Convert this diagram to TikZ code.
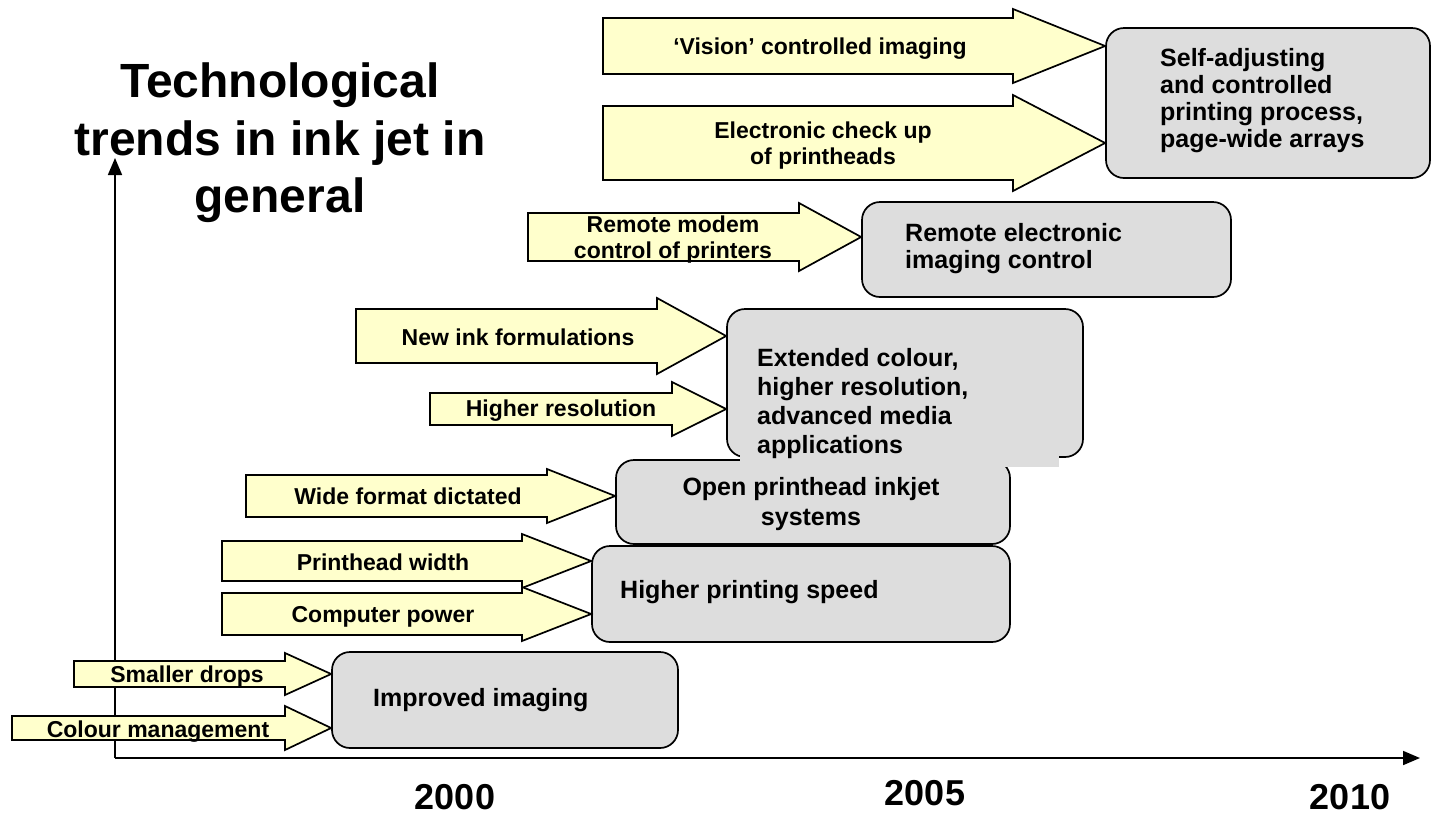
\documentclass[tikz,border=0pt]{standalone}
\usepackage{fontspec}
\setmainfont{Liberation Sans}
\usepackage{xcolor}
\usetikzlibrary{arrows.meta}
\definecolor{arrowyellow}{RGB}{255,255,204}
\definecolor{boxgray}{RGB}{221,221,221}

% block arrow: left x, base x, mid y, half shaft, half head, target box
\newcommand{\inarrow}[6]{%
\draw[yarrow] (#1,{#3-#4}) -- (#2,{#3-#4}) -- (#2,{#3-#5}) -- (#6.west |- 0,#3) -- (#2,{#3+#5}) -- (#2,{#3+#4}) -- (#1,{#3+#4}) -- cycle;}

\begin{document}
\begin{tikzpicture}[x=1pt,y=-1pt,
  yarrow/.style={draw, fill=arrowyellow, line width=1.7pt, line join=miter},
  grbox/.style={draw, fill=boxgray, line width=1.7pt, rounded corners=18pt, inner sep=0pt},
  atext/.style={font=\fontsize{23}{26}\selectfont\bfseries, inner sep=0pt},
  btext/.style={font=\fontsize{25}{28}\selectfont\bfseries, inner sep=0pt},
  axis/.style={line width=1.7pt, -{Triangle[length=17pt,width=14pt]}}]
\useasboundingbox (0,0) rectangle (1433,815);

% axes
\coordinate (O) at (115,758);
\coordinate (ytop) at (115,158);
\coordinate (xend) at (1420,758);
\draw[axis] (O) -- (ytop);
\draw[axis] (O) -- (xend);

% grey boxes
\node[grbox, minimum width=346pt, minimum height=96pt] (imp) at (505,700) {};
\node[grbox, minimum width=418pt, minimum height=96pt] (speed) at (801,594) {};
\node[grbox, minimum width=394pt, minimum height=84pt] (open) at (813,502) {};
\node[grbox, minimum width=356pt, minimum height=148pt] (extc) at (905,383) {};
\node[grbox, minimum width=369pt, minimum height=95pt] (remo) at (1046.5,249.5) {};
\node[grbox, minimum width=324pt, minimum height=150pt] (self) at (1268,103) {};

% yellow arrows
\inarrow{603}{1013}{46}{28}{37}{self}
\inarrow{603}{1013}{143}{37}{48}{self}
\inarrow{528}{799}{237}{24}{34}{remo}
\inarrow{356}{657}{336}{27}{38}{extc}
\inarrow{430}{672}{409}{16}{27}{extc}
\inarrow{246}{547}{496}{21}{27}{open}
\inarrow{222}{522}{561}{20}{27}{speed}
\inarrow{222}{522}{614}{21}{27}{speed}
\inarrow{74}{285}{674}{13}{21}{imp}
\inarrow{12}{285}{728}{12}{22}{imp}

% arrow labels
\node[atext, anchor=base] (vis) at (820,54) {‘Vision’ controlled imaging};
\node[atext, anchor=north, align=center] (elec) at (823,122) {Electronic check up\\of printheads};
\node[atext, anchor=north, align=center] (modem) at (673,216) {Remote modem\\control of printers};
\node[atext, anchor=base] (ink) at (518,345) {New ink formulations};
\node[atext, anchor=base] (res) at (561,416) {Higher resolution};
\node[atext, anchor=base] (wide) at (408,504) {Wide format dictated};
\node[atext, anchor=base] (phw) at (383,570) {Printhead width};
\node[atext, anchor=base] (cpu) at (383,622) {Computer power};
\node[atext, anchor=base] (drops) at (187,682) {Smaller drops};
\node[atext, anchor=base] (cman) at (158,737) {Colour management};

% box labels
\node[btext, anchor=base west] (impt) at (373,706) {Improved imaging};
\node[btext, anchor=base west] (speedt) at (620,598) {Higher printing speed};
\node[btext, anchor=north, align=center, font=\fontsize{25}{30}\selectfont\bfseries] (opent) at (811,477) {Open printhead inkjet\\systems};
\fill[boxgray] (740,430) rectangle (1059,467);
\node[btext, anchor=north west, align=left, font=\fontsize{25}{29}\selectfont\bfseries] (extct) at (757,348) {Extended colour,\\higher resolution,\\advanced media\\applications};
\node[btext, anchor=north west, align=left, font=\fontsize{25}{27}\selectfont\bfseries] (remot) at (905,223) {Remote electronic\\imaging control};
\node[btext, anchor=north west, align=left, font=\fontsize{25}{27}\selectfont\bfseries] (selft) at (1160,48) {Self-adjusting\\and controlled\\printing process,\\page-wide arrays};

% title and years
\node[anchor=north, align=center, inner sep=0pt, font=\fontsize{48}{57.5}\selectfont\bfseries] (title) at (280,63) {Technological\\trends in ink jet in\\general};
\node[anchor=base, inner sep=0pt, font=\fontsize{36}{40}\selectfont\bfseries] (y2000) at (455,809) {2000};
\node[anchor=base, inner sep=0pt, font=\fontsize{36}{40}\selectfont\bfseries] (y2005) at (925,805) {2005};
\node[anchor=base, inner sep=0pt, font=\fontsize{36}{40}\selectfont\bfseries] (y2010) at (1350,809) {2010};
\end{tikzpicture}
\end{document}
